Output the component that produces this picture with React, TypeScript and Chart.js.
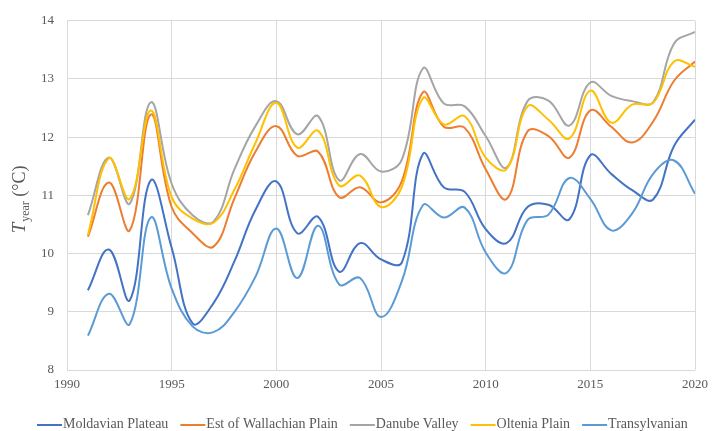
import React, { useEffect, useRef } from "react";
import { Chart, registerables } from "chart.js";

Chart.register(...registerables);

const years = [1991, 1992, 1993, 1994, 1995, 1996, 1997, 1998, 1999, 2000, 2001, 2002, 2003, 2004, 2005, 2006, 2007, 2008, 2009, 2010, 2011, 2012, 2013, 2014, 2015, 2016, 2017, 2018, 2019, 2020];

const moldavianPlateau = [9.37, 10.07, 9.2, 11.26, 10.1, 8.8, 9.15, 9.87, 10.75, 11.24, 10.35, 10.63, 9.69, 10.18, 9.9, 9.85, 11.71, 11.14, 11.06, 10.42, 10.18, 10.8, 10.84, 10.59, 11.69, 11.37, 11.09, 10.93, 11.85, 12.3];
const estWallachianPlain = [10.29, 11.22, 10.4, 12.39, 10.8, 10.35, 10.12, 10.95, 11.75, 12.19, 11.68, 11.75, 10.97, 11.14, 10.88, 11.25, 12.77, 12.18, 12.16, 11.45, 10.94, 12.1, 12.02, 11.65, 12.46, 12.18, 11.91, 12.27, 12.97, 13.3];
const danubeValley = [10.66, 11.65, 10.86, 12.6, 11.2, 10.66, 10.55, 11.45, 12.19, 12.62, 12.05, 12.36, 11.26, 11.71, 11.41, 11.62, 13.18, 12.58, 12.53, 12.02, 11.48, 12.62, 12.63, 12.2, 12.94, 12.71, 12.62, 12.6, 13.61, 13.81];
const olteniaPlain = [10.32, 11.64, 10.94, 12.46, 10.97, 10.6, 10.53, 11.1, 11.9, 12.59, 11.82, 12.11, 11.17, 11.34, 10.8, 11.15, 12.67, 12.22, 12.36, 11.65, 11.45, 12.53, 12.3, 11.98, 12.8, 12.25, 12.56, 12.59, 13.3, 13.21];
const transylvanian = [8.59, 9.31, 8.79, 10.62, 9.4, 8.75, 8.65, 9.0, 9.6, 10.43, 9.58, 10.48, 9.47, 9.58, 8.91, 9.53, 10.83, 10.62, 10.79, 10.02, 9.67, 10.58, 10.67, 11.3, 10.94, 10.4, 10.69, 11.37, 11.6, 11.03];

const seriesNames = ["Moldavian Plateau", "Est of Wallachian Plain", "Danube Valley", "Oltenia Plain", "Transylvanian"];
const seriesValues = [moldavianPlateau, estWallachianPlain, danubeValley, olteniaPlain, transylvanian];
const seriesColors = ["#4472C4", "#ED7D31", "#A5A5A5", "#FFC000", "#5B9BD5"];

const xMin = 1990;
const xMax = 2020;
const yMin = 8;
const yMax = 14;

const SERIF = "'Liberation Serif', 'DejaVu Serif', serif";
const TEXT = "#595959";

const customPlugin = {
  id: "customDecor",
  afterDraw(chart: any) {
    const ctx = chart.ctx as CanvasRenderingContext2D;
    // Y axis title: T_year (°C)
    ctx.save();
    const area = chart.chartArea;
    const cy = (area.top + area.bottom) / 2 + 4;
    ctx.translate(25, cy);
    ctx.rotate(-Math.PI / 2);
    ctx.fillStyle = TEXT;
    ctx.textBaseline = "alphabetic";
    ctx.textAlign = "left";
    const f1 = `italic 19px ${SERIF}`;
    const f2 = `12px ${SERIF}`;
    const f3 = `18px ${SERIF}`;
    ctx.font = f1;
    const w1 = ctx.measureText("T").width;
    ctx.font = f2;
    const w2 = ctx.measureText("year").width;
    ctx.font = f3;
    const w3 = ctx.measureText(" (°C)").width;
    let x = -(w1 + 1 + w2 + w3) / 2;
    ctx.font = f1;
    ctx.fillText("T", x, 0);
    x += w1 + 1;
    ctx.font = f2;
    ctx.fillText("year", x, 4);
    x += w2;
    ctx.font = f3;
    ctx.fillText(" (°C)", x, 0);
    ctx.restore();

    // Legend
    ctx.save();
    ctx.font = `14px ${SERIF}`;
    ctx.textBaseline = "middle";
    ctx.textAlign = "left";
    let lx = 37;
    const ly = 425;
    chart.data.datasets.forEach((ds: any) => {
      ctx.strokeStyle = ds.borderColor;
      ctx.lineWidth = 2;
      ctx.beginPath();
      ctx.moveTo(lx, ly);
      ctx.lineTo(lx + 25, ly);
      ctx.stroke();
      ctx.fillStyle = TEXT;
      ctx.fillText(ds.label, lx + 26, ly - 1);
      lx += 26 + ctx.measureText(ds.label).width + 12;
    });
    ctx.restore();
  },
};

export default function App() {
  const canvasRef = useRef<HTMLCanvasElement | null>(null);

  useEffect(() => {
    document.body.style.margin = "0";
    const canvas = canvasRef.current;
    if (!canvas) return;
    const datasets = seriesNames.map((name, i) => ({
      label: name,
      data: years.map((yr, j) => ({ x: yr, y: seriesValues[i][j] })),
      borderColor: seriesColors[i],
      backgroundColor: seriesColors[i],
      borderWidth: 2,
      pointRadius: 0,
      tension: 0.4,
      fill: false,
      order: seriesNames.length - 1 - i,
    }));
    const chart = new Chart(canvas, {
      type: "line",
      data: { datasets },
      options: {
        animation: false,
        responsive: false,
        maintainAspectRatio: false,
        layout: { padding: { left: 0, right: 13, top: 17, bottom: 0 } },
        plugins: {
          legend: { display: false },
          tooltip: { enabled: false },
          title: { display: false },
        },
        scales: {
          x: {
            type: "linear",
            min: xMin,
            max: xMax,
            ticks: {
              stepSize: 5,
              color: TEXT,
              font: { family: SERIF, size: 13 },
              padding: 7,
              maxRotation: 0,
              callback: (v: any) => String(v),
            },
            grid: { color: "#D9D9D9", lineWidth: 1, drawTicks: false },
            border: { display: false },
            afterFit: (scale: any) => {
              scale.height = 61;
            },
          },
          y: {
            type: "linear",
            min: yMin,
            max: yMax,
            ticks: {
              stepSize: 1,
              color: TEXT,
              font: { family: SERIF, size: 13 },
              padding: 13,
            },
            grid: { color: "#D9D9D9", lineWidth: 1, drawTicks: false },
            border: { display: false },
            afterFit: (scale: any) => {
              scale.width = 67;
            },
          },
        },
      },
      plugins: [customPlugin],
    });
    return () => chart.destroy();
  }, []);

  return (
    <div style={{ position: "relative", width: 715, height: 431, background: "#fff" }}>
      <canvas ref={canvasRef} width={715} height={431} style={{ width: 715, height: 431, display: "block" }} />
    </div>
  );
}
